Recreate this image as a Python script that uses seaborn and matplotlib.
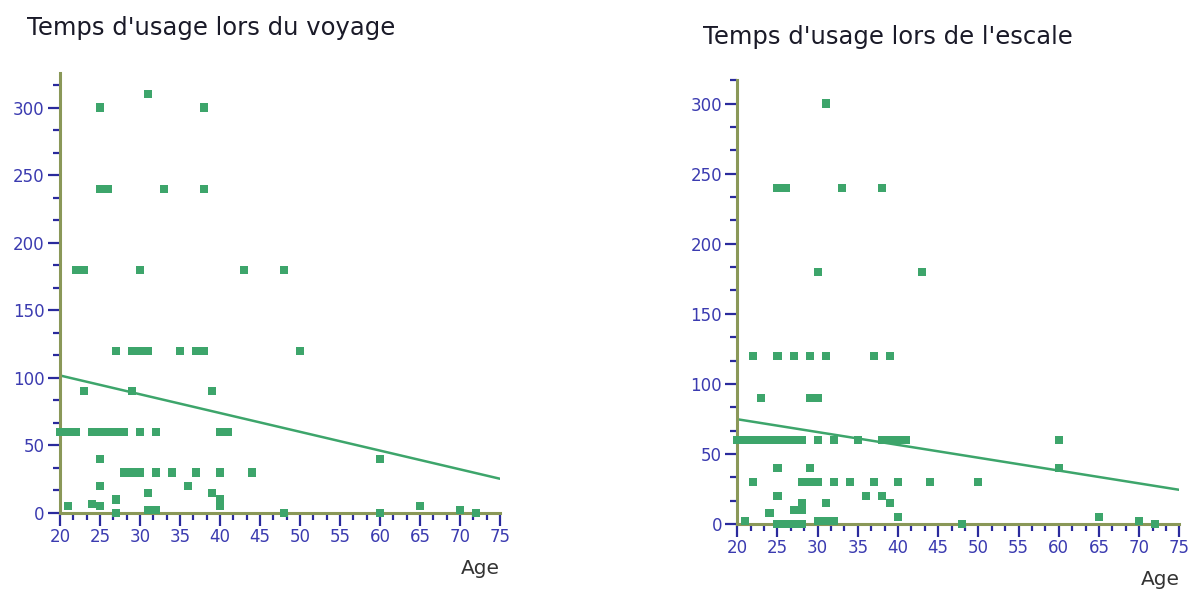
import matplotlib
matplotlib.use("Agg")
import matplotlib.pyplot as plt
from matplotlib.ticker import MultipleLocator, AutoMinorLocator
import seaborn as sns
import pandas as pd

# Temps d'usage lors du voyage (age, minutes)
age_voyage = [25, 31, 38,
              25, 26, 33, 38,
              22, 23, 30, 43, 48,
              27, 29, 30, 31, 35, 37, 38, 50,
              23, 29, 39,
              20, 21, 22, 24, 25, 26, 27, 28, 30, 32, 40, 41,
              25, 60,
              28, 29, 30, 32, 34, 37, 40, 44,
              25, 36,
              31, 39,
              27, 40,
              21, 24, 25, 40, 65,
              27, 31, 32, 48, 60, 70, 72]
temps_voyage = [300, 310, 300,
                240, 240, 240, 240,
                180, 180, 180, 180, 180,
                120, 120, 120, 120, 120, 120, 120, 120,
                90, 90, 90,
                60, 60, 60, 60, 60, 60, 60, 60, 60, 60, 60, 60,
                40, 40,
                30, 30, 30, 30, 30, 30, 30, 30,
                20, 20,
                15, 15,
                10, 10,
                5, 7, 5, 5, 5,
                0, 2, 2, 0, 0, 2, 0]

# Temps d'usage lors de l'escale
age_escale = [31,
              25, 26, 33, 38,
              30, 43,
              22, 25, 27, 29, 31, 37, 39,
              23, 29, 30,
              20, 21, 22, 23, 24, 25, 26, 27, 28, 30, 32, 35, 38, 39, 40, 41, 60,
              25, 29, 60,
              22, 28, 29, 30, 32, 34, 37, 40, 44, 50,
              25, 36, 38,
              28, 31, 39,
              27, 28, 24,
              40, 65,
              21, 30, 31, 32, 70,
              25, 26, 27, 28, 48, 72]
temps_escale = [300,
                240, 240, 240, 240,
                180, 180,
                120, 120, 120, 120, 120, 120, 120,
                90, 90, 90,
                60, 60, 60, 60, 60, 60, 60, 60, 60, 60, 60, 60, 60, 60, 60, 60, 60,
                40, 40, 40,
                30, 30, 30, 30, 30, 30, 30, 30, 30, 30,
                20, 20, 20,
                15, 15, 15,
                10, 10, 8,
                5, 5,
                2, 2, 2, 2, 2,
                0, 0, 0, 0, 0, 0]

titres = ["Temps d'usage lors du voyage", "Temps d'usage lors de l'escale"]

vert = "#3da56b"
olive = "#8a9858"
bleu = "#2a2a9c"

sns.set_style("white")
plt.rcParams["font.family"] = ["DejaVu Sans"]

fig = plt.figure(figsize=(11.95, 5.89), dpi=100)
ax1 = fig.add_axes([0.0502, 0.129, 0.3682, 0.747])
ax2 = fig.add_axes([0.617, 0.110, 0.3699, 0.754])

jeux = [(ax1, age_voyage, temps_voyage, 325.5),
        (ax2, age_escale, temps_escale, 316.7)]

for ax, ages, temps, ymax in jeux:
    df = pd.DataFrame({"Age": ages, "Temps": temps})
    ax.set_xlim(20, 75)
    ax.set_ylim(0, ymax)
    sns.scatterplot(data=df, x="Age", y="Temps", marker="s", s=34,
                    color=vert, edgecolor="none", ax=ax, clip_on=False, zorder=3)
    # droite de régression étendue à tout l'axe x
    sns.regplot(data=df, x="Age", y="Temps", scatter=False, ci=None,
                truncate=False, color=vert, line_kws={"linewidth": 1.8}, ax=ax)
    ax.set_xlim(20, 75)
    ax.set_ylim(0, ymax)

    # style des axes
    sns.despine(ax=ax)
    for cote in ["left", "bottom"]:
        ax.spines[cote].set_color(olive)
        ax.spines[cote].set_linewidth(2.2)
    ax.xaxis.set_major_locator(MultipleLocator(5))
    ax.yaxis.set_major_locator(MultipleLocator(50))
    ax.xaxis.set_minor_locator(AutoMinorLocator(3))
    ax.yaxis.set_minor_locator(AutoMinorLocator(3))
    ax.tick_params(which="major", direction="out", length=9, width=1.6,
                   color=bleu, labelcolor="#3b3bb0", labelsize=12, pad=2,
                   left=True, bottom=True)
    ax.tick_params(which="minor", direction="out", length=5, width=1.6,
                   color=bleu, left=True, bottom=True)
    ax.set_ylabel("")
    ax.set_xlabel("Age", loc="right", fontsize=14.5, color="#333333", labelpad=9)
    ax.grid(False)

fig.text(0.0226, 0.952, titres[0], fontsize=17.5, color="#1a1a28", va="center")
fig.text(0.588, 0.937, titres[1], fontsize=17.5, color="#1a1a28", va="center")

fig.savefig("out.png", dpi=100)
